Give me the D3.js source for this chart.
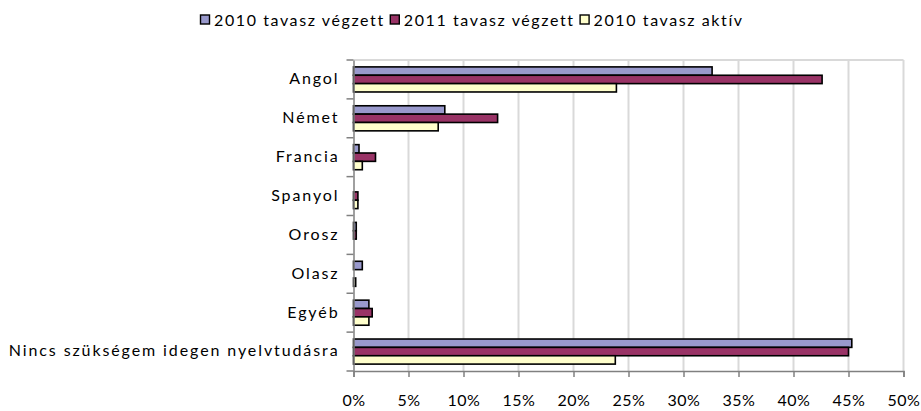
<!DOCTYPE html>
<html>
<head>
<meta charset="utf-8">
<script src="https://cdn.jsdelivr.net/npm/d3@7"></script>
<style>
  body { margin: 0; background: #fff; }
  text { font-family: Lato, "Noto Sans", sans-serif; fill: #000; }
</style>
</head>
<body>
<svg id="chart"></svg>
<script>
const w = 921;
const h = 411;

const categories = ["Angol", "Német", "Francia", "Spanyol", "Orosz", "Olasz", "Egyéb", "Nincs szükségem idegen nyelvtudásra"];
const series = ["2010 tavasz végzett", "2011 tavasz végzett", "2010 tavasz aktív"];
const colors = ["#9999cc", "#993366", "#ffffcc"];
const vegzett2010 = [32.6, 8.3, 0.5, 0, 0.25, 0.8, 1.4, 45.3];
const vegzett2011 = [42.6, 13.1, 2.0, 0.4, 0.25, 0, 1.7, 45.0];
const aktiv2010 = [23.9, 7.7, 0.8, 0.4, 0, 0.2, 1.4, 23.8];
const xTicks = [0, 5, 10, 15, 20, 25, 30, 35, 40, 45, 50];

const values = [vegzett2010, vegzett2011, aktiv2010];
const rows = categories.map((c, i) => ({ cat: c, vals: values.map(v => v[i]) }));

const plotLeft = 353.5, plotRight = 903.5, plotTop = 60, plotBottom = 371;

const svg = d3.select("#chart")
  .attr("width", w)
  .attr("height", h);

const x = d3.scaleLinear().domain([0, 50]).range([plotLeft, plotRight]);
const y = d3.scaleBand().domain(categories).range([plotTop, plotBottom]);
const pad = 6.9;
const ySub = d3.scaleBand().domain(d3.range(3)).range([pad, y.bandwidth() - pad]);

// gridlines
svg.append("g")
  .selectAll("line")
  .data(xTicks.slice(1))
  .enter()
  .append("line")
  .attr("x1", d => x(d))
  .attr("x2", d => x(d))
  .attr("y1", plotTop)
  .attr("y2", plotBottom)
  .attr("stroke", "#d9d9d9")
  .attr("stroke-width", 2);

svg.append("line")
  .attr("x1", plotLeft).attr("x2", plotRight)
  .attr("y1", plotTop).attr("y2", plotTop)
  .attr("stroke", "#d9d9d9")
  .attr("stroke-width", 2);

// bars
const groups = svg.append("g")
  .selectAll("g")
  .data(rows)
  .enter()
  .append("g")
  .attr("transform", d => `translate(0, ${y(d.cat)})`);

groups.selectAll("rect")
  .data(d => d.vals.map((v, i) => ({ v, i })).filter(e => e.v > 0))
  .enter()
  .append("rect")
  .attr("x", x(0))
  .attr("y", d => ySub(d.i))
  .attr("width", d => x(d.v) - x(0))
  .attr("height", ySub.bandwidth())
  .attr("fill", d => colors[d.i])
  .attr("stroke", "#000")
  .attr("stroke-width", 1.6);

// x axis
const xAxis = d3.axisBottom(x)
  .tickValues(xTicks)
  .tickSize(6)
  .tickPadding(18)
  .tickFormat(d => d + "%");

const gx = svg.append("g")
  .attr("transform", `translate(0, ${plotBottom})`)
  .call(xAxis);
gx.select(".domain").attr("stroke", "#808080").attr("stroke-width", 1.5);
gx.selectAll(".tick line").attr("stroke", "#808080").attr("stroke-width", 1.5);
gx.selectAll("text").attr("font-size", 16).attr("letter-spacing", 0.5);

// y axis
const yAxis = d3.axisLeft(y).tickSize(0).tickPadding(14);
const gy = svg.append("g")
  .attr("transform", `translate(${plotLeft}, 0)`)
  .call(yAxis);
gy.select(".domain").attr("stroke", "#808080").attr("stroke-width", 1.5);
gy.selectAll("text").attr("font-size", 16).attr("letter-spacing", 1.9).attr("dy", "0.3em");

gy.selectAll(".bound")
  .data(d3.range(categories.length + 1))
  .enter()
  .append("line")
  .attr("class", "bound")
  .attr("x1", -7)
  .attr("x2", 0)
  .attr("y1", i => plotTop + i * y.step())
  .attr("y2", i => plotTop + i * y.step())
  .attr("stroke", "#808080")
  .attr("stroke-width", 1.5);

// legend
const legend = svg.append("g").attr("transform", "translate(200, 20)");
let lx = 0;
series.forEach((s, i) => {
  const item = legend.append("g").attr("transform", `translate(${lx}, 0)`);
  item.append("rect")
    .attr("x", 0.5).attr("y", -5)
    .attr("width", 9).attr("height", 9)
    .attr("fill", colors[i])
    .attr("stroke", "#000")
    .attr("stroke-width", 1.4);
  const t = item.append("text")
    .attr("x", 14)
    .attr("y", 0)
    .attr("dy", "0.35em")
    .attr("font-size", 16)
    .attr("letter-spacing", 1.6)
    .text(s);
  lx += 14 + t.node().getComputedTextLength() + 5;
});
</script>
</body>
</html>
